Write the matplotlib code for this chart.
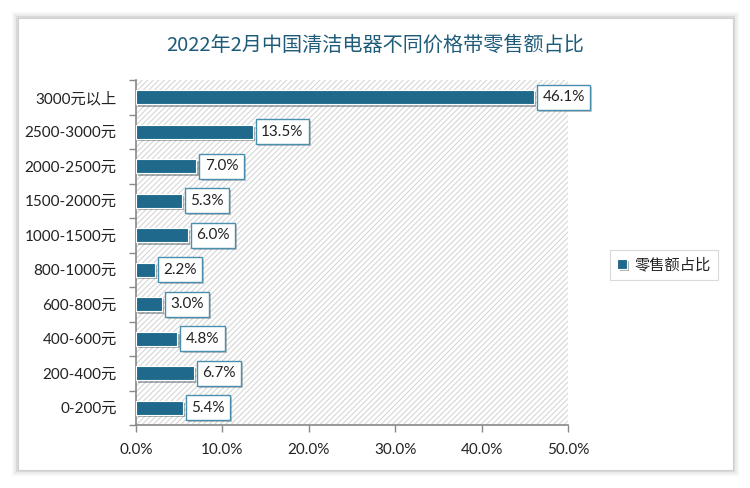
import matplotlib
matplotlib.use("Agg")
import matplotlib.pyplot as plt
from matplotlib.patches import Rectangle
import matplotlib.patheffects as pe

plt.rcParams['font.family'] = ['Lato', 'Noto Sans CJK SC', 'DejaVu Sans']
plt.rcParams['hatch.linewidth'] = 0.8

categories = ['3000元以上', '2500-3000元', '2000-2500元', '1500-2000元', '1000-1500元',
              '800-1000元', '600-800元', '400-600元', '200-400元', '0-200元']
values = [46.1, 13.5, 7.0, 5.3, 6.0, 2.2, 3.0, 4.8, 6.7, 5.4]
title = '2022年2月中国清洁电器不同价格带零售额占比'
series_name = '零售额占比'
xticks = [0, 10, 20, 30, 40, 50]

bar_color = '#1F6A8C'
W, H = 750, 488
fig = plt.figure(figsize=(W / 100, H / 100), dpi=100)
fig.patch.set_facecolor('white')

# card with shadow
for i, a in enumerate([0.03, 0.05, 0.07]):
    d = (3 - i) * 2
    fig.patches.append(Rectangle(((18 - d) / W, (H - 470 - d) / H), (715 + 2 * d) / W, (452 + 2 * d) / H,
                                 transform=fig.transFigure, facecolor='black', alpha=a,
                                 edgecolor='none', zorder=0))
fig.patches.append(Rectangle((18 / W, (H - 470) / H), 715 / W, 452 / H,
                             transform=fig.transFigure, facecolor='white',
                             edgecolor='#d0d0d0', lw=0.8, zorder=1))

ax = fig.add_axes([136 / W, 1 - 425 / H, 432 / W, 345 / H])
ax.set_facecolor('none')
ax.set_zorder(2)
n = len(categories)
ypos = list(range(n))
ax.add_patch(Rectangle((0, -0.5), 50, n, facecolor='white', edgecolor='#d6d6d6', lw=0,
                       hatch='//////', zorder=0))
ax.barh(ypos, values, height=0.42, color=bar_color, edgecolor='white', lw=0.8, zorder=3,
        label=series_name,
        path_effects=[pe.SimplePatchShadow(offset=(1.5, -1.5), alpha=0.35), pe.Normal()])
ax.set_ylim(n - 0.5, -0.5)
ax.set_xlim(0, 50)
ax.set_yticks(ypos)
ax.set_yticklabels(categories, fontsize=11, color='#222222')
ax.set_yticks([i + 0.5 for i in range(-1, n)], minor=True)
ax.tick_params(axis='y', which='major', length=0, pad=14)
ax.tick_params(axis='y', which='minor', length=5, color='#888888', width=1)
ax.set_xticks(xticks)
ax.set_xticklabels([f'{t:.1f}%' for t in xticks], fontsize=11, color='#222222')
ax.tick_params(axis='x', length=5, color='#888888', width=1, pad=8)
for s in ['top', 'right']:
    ax.spines[s].set_visible(False)
for s in ['left', 'bottom']:
    ax.spines[s].set_color('#888888')
    ax.spines[s].set_linewidth(1.2)

for y, v in zip(ypos, values):
    ax.annotate(f'{v:.1f}%', (v, y), xytext=(6, 0), textcoords='offset points',
                va='center', ha='left', fontsize=11, color='#222222', zorder=5,
                bbox=dict(boxstyle='square,pad=0.35', facecolor='white', edgecolor='#4A8FAD', lw=1.0,
                          path_effects=[pe.SimplePatchShadow(offset=(1.5, -1.5), alpha=0.3), pe.Normal()]))

fig.text(375 / W, 1 - 45 / H, title, ha='center', va='center', fontsize=14.5, color='#1F5C7A',
         family=['Noto Sans CJK SC', 'DejaVu Sans'])

leg = fig.legend(*ax.get_legend_handles_labels(), loc='center', bbox_to_anchor=(664 / W, 1 - 265 / H),
                 fontsize=11, frameon=True, fancybox=False, edgecolor='#d0d0d0',
                 handlelength=0.6, handleheight=0.6, handletextpad=0.5, borderpad=0.5)
leg.get_frame().set_linewidth(0.8)
for t in leg.get_texts():
    t.set_color('#222222')

fig.savefig('out.png', dpi=100)
